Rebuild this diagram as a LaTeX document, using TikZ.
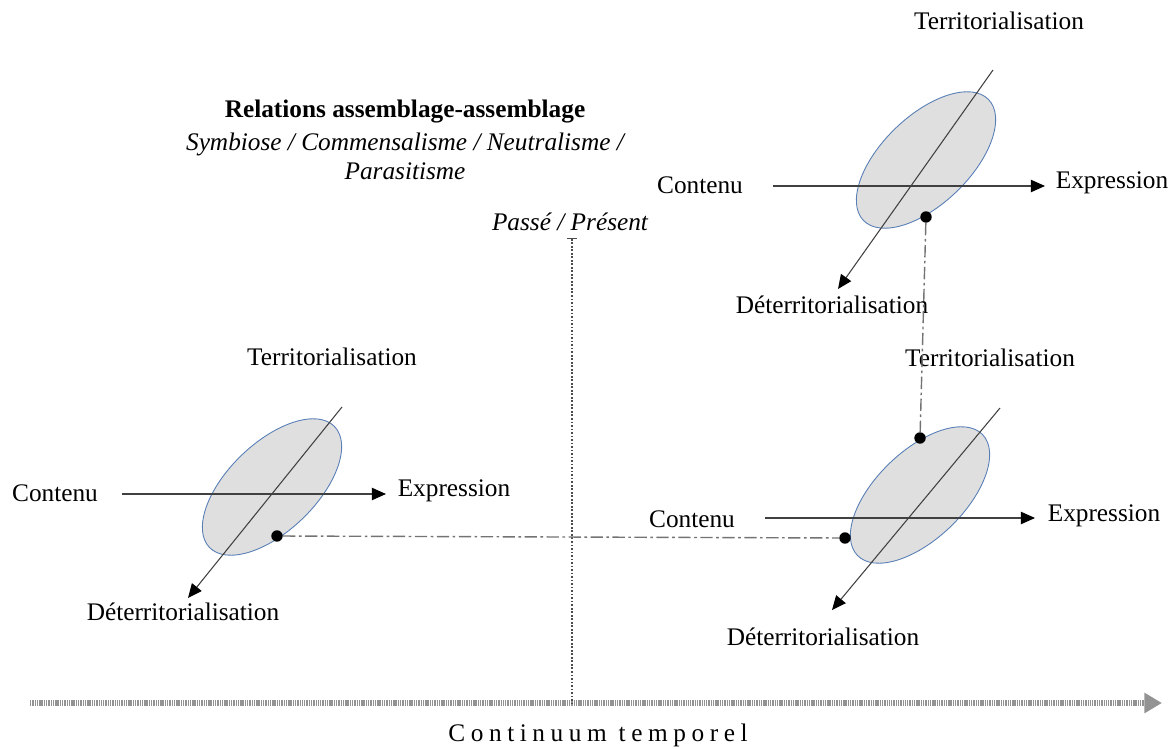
\documentclass[tikz,border=0pt]{standalone}
\usepackage{fontspec}
\setmainfont{Liberation Serif}
\usetikzlibrary{arrows,arrows.meta,positioning,shapes}
\definecolor{bordbleu}{RGB}{88,126,182}

\begin{document}
\begin{tikzpicture}[x=0.02cm,y=-0.02cm,font=\fontsize{14.4}{16.5}\selectfont,>={Triangle[length=8pt,width=7pt,color=black]},
	zone/.style={ellipse,draw=bordbleu,fill=gray!25,line width=0.5pt,minimum width=3.48cm,minimum height=1.76cm,inner sep=0pt,rotate=44},
	axe/.style={draw=black!75,line width=0.6pt},
	point/.style={circle,fill=black,inner sep=0pt,minimum size=6.5pt},
	lien/.style={draw=black!55,line width=0.8pt,dash pattern=on 7pt off 2pt on 1.5pt off 2pt}]
	\useasboundingbox (0,0) rectangle (1176,749);

	% titre
	\node[font=\fontsize{14.4}{16.5}\selectfont\bfseries] (titre) at (405,112) {Relations assemblage-assemblage};
	\node[font=\fontsize{14.4}{16.5}\selectfont\itshape,align=center] (types) at (405,156) {Symbiose / Commensalisme / Neutralisme /\\Parasitisme};

	% continuum temporel
	\coordinate (t0) at (30,703);
	\coordinate (t1) at (1162,703);
	\draw[gray!85,line width=3pt,dash pattern=on 0.8pt off 0.5pt,-{Triangle[length=10pt,width=11pt]}] (t0) -- (t1);
	\node (temps) at (598,735) {\addfontfeature{LetterSpace=22}Continuum temporel};

	% passe / present
	\node[font=\fontsize{14.4}{16.5}\selectfont\itshape] (passe) at (570,222) {Passé / Présent};
	\coordinate (p0) at (572,238);
	\coordinate (p1) at (572,703);
	\draw[black!70,line width=0.6pt,dash pattern=on 1pt off 1pt,{Bar[width=6pt]}-] (p0) -- (p1);

	% assemblage gauche
	\node[zone] (e1) at (272,487) {};
	\node (t1l) at (332,357) {Territorialisation};
	\node (c1) at (55,493) {Contenu};
	\node (x1) at (454,491) {Expression};
	\node (d1) at (183,612) {Déterritorialisation};
	\coordinate (h1a) at (122,494);
	\coordinate (h1b) at (386,494);
	\coordinate (g1a) at (342,407);
	\coordinate (g1b) at (188,598);
	\draw[axe,->] (h1a) -- (h1b);
	\draw[axe,->] (g1a) -- (g1b);
	\node[point] (k1) at (277,536) {};

	% assemblage haut
	\node[zone] (e2) at (926,160) {};
	\node (t2) at (999,21) {Territorialisation};
	\node (c2) at (700,185) {Contenu};
	\node (x2) at (1112,183) {Expression};
	\node (d2) at (832,305) {Déterritorialisation};
	\coordinate (h2a) at (773,186);
	\coordinate (h2b) at (1045,186);
	\coordinate (g2a) at (993,70);
	\coordinate (g2b) at (838,289);
	\draw[axe,->] (h2a) -- (h2b);
	\draw[axe,->] (g2a) -- (g2b);
	\node[point] (k2) at (926,217) {};

	% assemblage bas
	\node[zone] (e3) at (920,495) {};
	\node (t3) at (990,358) {Territorialisation};
	\node (c3) at (692,519) {Contenu};
	\node (x3) at (1104,516) {Expression};
	\node (d3) at (823,637) {Déterritorialisation};
	\coordinate (h3a) at (765,518);
	\coordinate (h3b) at (1035,518);
	\coordinate (g3a) at (1000,408);
	\coordinate (g3b) at (832,610);
	\draw[axe,->] (h3a) -- (h3b);
	\draw[axe,->] (g3a) -- (g3b);
	\node[point] (k3) at (845,538) {};
	\node[point] (k4) at (920,438) {};

	% liens
	\draw[lien] (k1) -- (k3);
	\draw[lien] (k2) -- (k4);
\end{tikzpicture}
\end{document}
